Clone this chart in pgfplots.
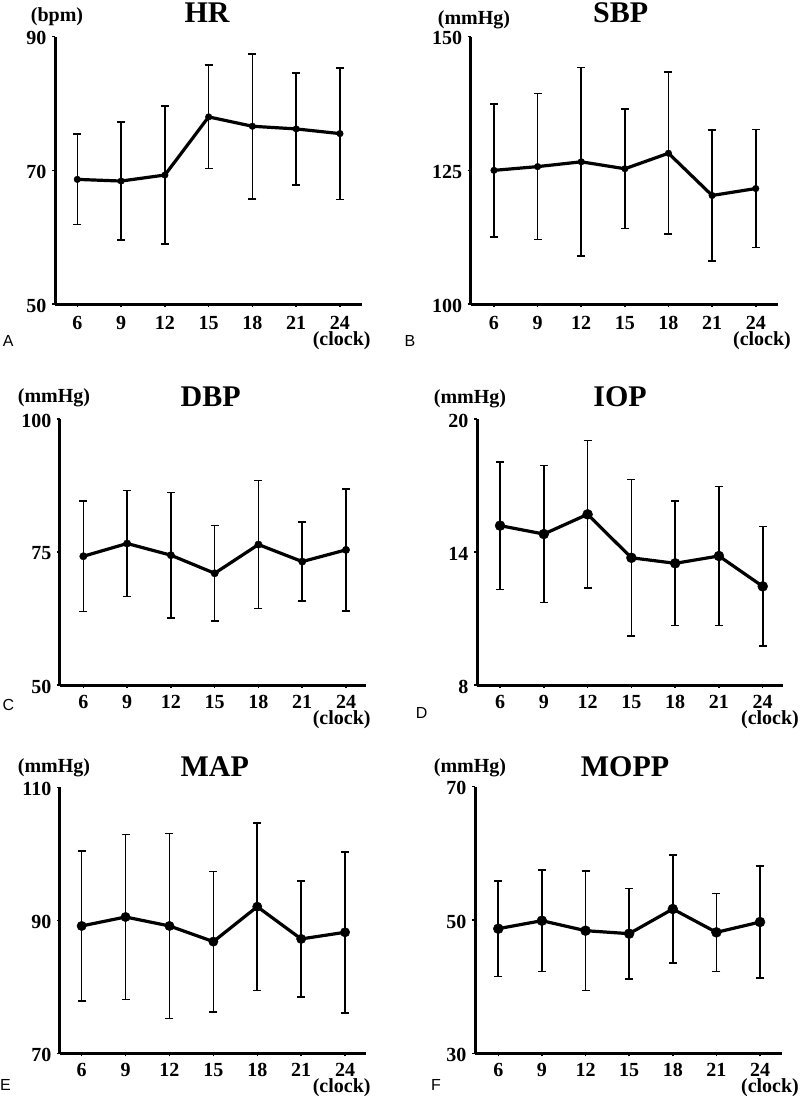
\documentclass[border=0pt]{standalone}
\usepackage{fontspec}
\setmainfont{Liberation Serif}
\newfontfamily\panelfont{Liberation Sans}
\usepackage{pgfplots}
\pgfplotsset{compat=1.18}
\pgfplotsset{
  panel/.style={
    scale only axis,
    axis x line*=bottom, axis y line*=left,
    axis line style={line width=3pt, -},
    xtick={6,9,12,15,18,21,24},
    xtick align=outside, ytick align=outside,
    major tick length=3pt,
    tick style={line width=1.5pt, black},
    tick label style={font=\bfseries\fontsize{20}{20}\selectfont, inner sep=0pt},
    /pgf/number format/assume math mode=true,
    xticklabel style={anchor=base},
    yticklabel style={anchor=east, xshift=-5.5pt, yshift=-1.5pt},
    clip=false,
  },
  series/.style={
    black, line width=3.2pt, mark=*, mark size=#1,
    mark options={line width=0.4pt},
    error bars/.cd, y dir=both, y explicit,
    error bar style={line width=1.6pt},
    error mark options={rotate=90, mark size=4pt, line width=1.6pt},
  },
}
\newcommand{\ttl}[1]{\bfseries\fontsize{30}{30}\selectfont #1}
\newcommand{\unt}[1]{\bfseries\fontsize{20}{20}\selectfont #1}
\tikzset{txt/.style={anchor=base, inner sep=0pt}}
\begin{document}
\begin{tikzpicture}
\useasboundingbox (0,0) rectangle (800pt,-1096pt);
% A HR
\begin{axis}[panel, at={(55pt,-304pt)}, anchor=south west, width=307pt, height=267.3pt,
  xmin=4.47, xmax=25.51, ymin=50, ymax=90, ytick={50,70,90},
  xticklabel style={yshift=-22.5pt}]
\addplot+[series=3.3pt] coordinates {
 (6,68.65) +- (0,6.75)
 (9,68.4) +- (0,8.85)
 (12,69.3) +- (0,10.3)
 (15,78.0) +- (0,7.75)
 (18,76.6) +- (0,10.85)
 (21,76.2) +- (0,8.35)
 (24,75.5) +- (0,9.85)
};
\end{axis}
% B SBP
\begin{axis}[panel, at={(470.7pt,-304pt)}, anchor=south west, width=307.3pt, height=267.3pt,
  xmin=4.40, xmax=25.53, ymin=100, ymax=150, ytick={100,125,150},
  xticklabel style={yshift=-22.5pt}]
\addplot+[series=3.3pt] coordinates {
 (6,125.0) +- (0,12.45)
 (9,125.7) +- (0,13.65)
 (12,126.6) +- (0,17.65)
 (15,125.3) +- (0,11.15)
 (18,128.2) +- (0,15.15)
 (21,120.3) +- (0,12.25)
 (24,121.6) +- (0,11.05)
};
\end{axis}
% C DBP
\begin{axis}[panel, at={(60pt,-685pt)}, anchor=south west, width=305.7pt, height=266pt,
  xmin=4.40, xmax=25.35, ymin=50, ymax=100, ytick={50,75,100},
  xticklabel style={yshift=-20.5pt}]
\addplot+[series=3.7pt] coordinates {
 (6,74.2) +- (0,10.35)
 (9,76.6) +- (0,9.95)
 (12,74.4) +- (0,11.75)
 (15,71.0) +- (0,8.95)
 (18,76.4) +- (0,12.05)
 (21,73.2) +- (0,7.45)
 (24,75.4) +- (0,11.45)
};
\end{axis}
% D IOP
\begin{axis}[panel, at={(477pt,-685pt)}, anchor=south west, width=306pt, height=266pt,
  xmin=4.42, xmax=25.39, ymin=8, ymax=20, ytick={8,14,20},
  xticklabel style={yshift=-20.5pt}]
\addplot+[series=5pt] coordinates {
 (6,15.19) +- (0,2.88)
 (9,14.81) +- (0,3.09)
 (12,15.70) +- (0,3.33)
 (15,13.74) +- (0,3.53)
 (18,13.49) +- (0,2.80)
 (21,13.82) +- (0,3.13)
 (24,12.45) +- (0,2.70)
};
\end{axis}
% E MAP
\begin{axis}[panel, at={(60pt,-1053.3pt)}, anchor=south west, width=305.7pt, height=266pt,
  xmin=4.52, xmax=25.41, ymin=70, ymax=110, ytick={70,90,110},
  xticklabel style={yshift=-20pt}]
\addplot+[series=4.7pt] coordinates {
 (6,89.15) +- (0,11.3)
 (9,90.5) +- (0,12.4)
 (12,89.15) +- (0,13.9)
 (15,86.8) +- (0,10.55)
 (18,92.05) +- (0,12.6)
 (21,87.2) +- (0,8.75)
 (24,88.2) +- (0,12.1)
};
\end{axis}
% F MOPP
\begin{axis}[panel, at={(475pt,-1053.3pt)}, anchor=south west, width=306.7pt, height=266.6pt,
  xmin=4.40, xmax=25.49, ymin=30, ymax=70, ytick={30,50,70},
  xticklabel style={yshift=-20pt}]
\addplot+[series=5pt] coordinates {
 (6,48.7) +- (0,7.18)
 (9,49.9) +- (0,7.63)
 (12,48.4) +- (0,8.98)
 (15,47.95) +- (0,6.78)
 (18,51.65) +- (0,8.08)
 (21,48.15) +- (0,5.85)
 (24,49.7) +- (0,8.43)
};
\end{axis}
% titles
\node[txt] at (207pt,-22.7pt) {\ttl{HR}};
\node[txt] at (620.7pt,-22.7pt) {\ttl{SBP}};
\node[txt] at (210.7pt,-406pt) {\ttl{DBP}};
\node[txt] at (620pt,-406pt) {\ttl{IOP}};
\node[txt] at (214.7pt,-776pt) {\ttl{MAP}};
\node[txt] at (625pt,-776pt) {\ttl{MOPP}};
% units
\node[txt] at (57pt,-21.7pt) {\unt{(bpm)}};
\node[txt] at (474pt,-24pt) {\unt{(mmHg)}};
\node[txt] at (54pt,-402.3pt) {\unt{(mmHg)}};
\node[txt] at (470pt,-403.3pt) {\unt{(mmHg)}};
\node[txt] at (54pt,-772.3pt) {\unt{(mmHg)}};
\node[txt] at (470pt,-772.3pt) {\unt{(mmHg)}};
% clock
\node[txt] at (341.7pt,-345pt) {\unt{(clock)}};
\node[txt] at (762pt,-345pt) {\unt{(clock)}};
\node[txt] at (341.7pt,-724.5pt) {\unt{(clock)}};
\node[txt] at (770pt,-724.5pt) {\unt{(clock)}};
\node[txt] at (341.7pt,-1092.5pt) {\unt{(clock)}};
\node[txt] at (770pt,-1092.5pt) {\unt{(clock)}};
% panel letters
\node[txt] at (8.3pt,-346.7pt) {\panelfont\fontsize{16}{16}\selectfont A};
\node[txt] at (410pt,-346.7pt) {\panelfont\fontsize{16}{16}\selectfont B};
\node[txt] at (8.3pt,-710.7pt) {\panelfont\fontsize{16}{16}\selectfont C};
\node[txt] at (421.7pt,-718.3pt) {\panelfont\fontsize{16}{16}\selectfont D};
\node[txt] at (5.5pt,-1090.7pt) {\panelfont\fontsize{16}{16}\selectfont E};
\node[txt] at (436pt,-1090.7pt) {\panelfont\fontsize{16}{16}\selectfont F};
\end{tikzpicture}
\end{document}
